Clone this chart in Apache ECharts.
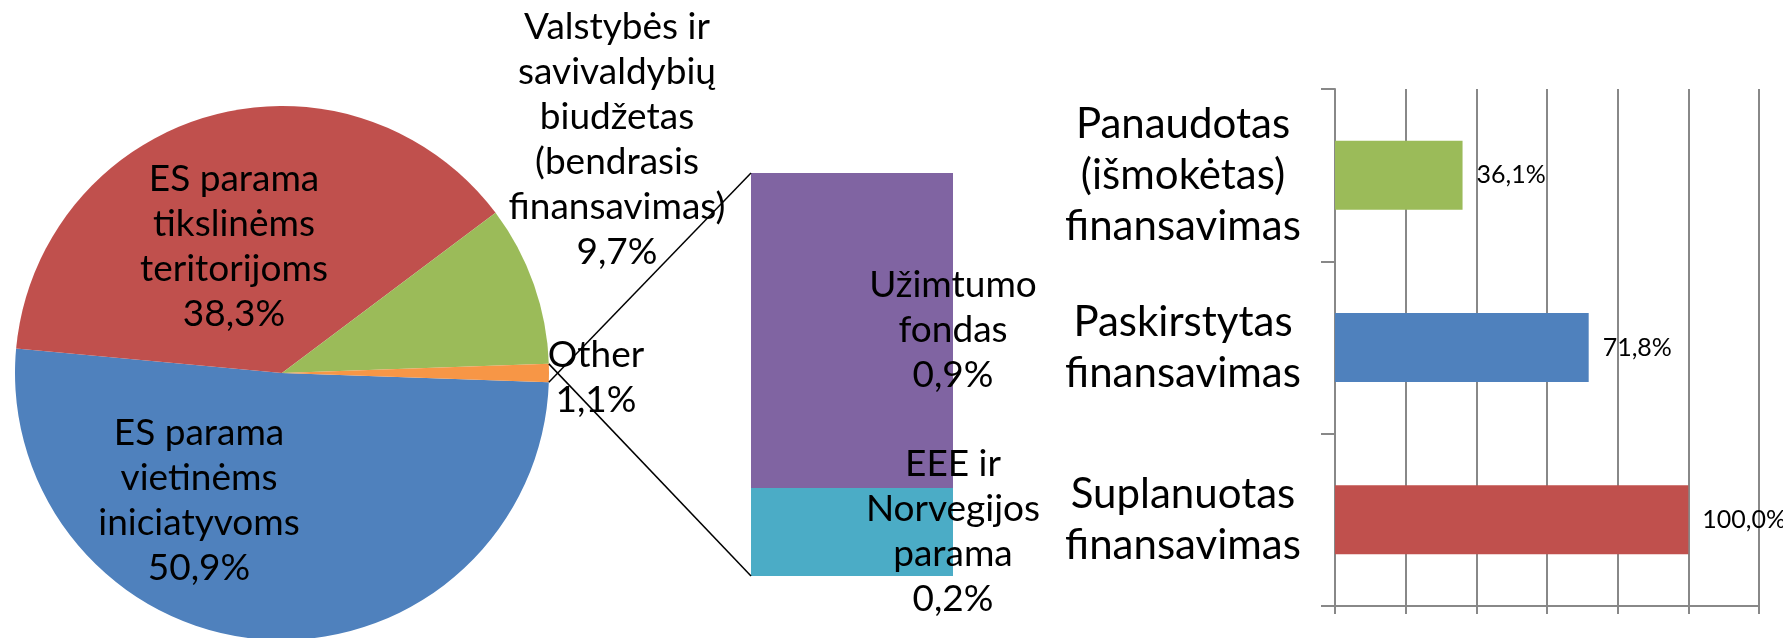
<!DOCTYPE html>
<html>
<head>
<meta charset="utf-8">
<script src="https://cdn.jsdelivr.net/npm/echarts@6/dist/echarts.min.js"></script>
<style>
	html, body { margin: 0; padding: 0; background: #fff; }
	#chart { width: 1783px; height: 638px; }
</style>
</head>
<body>
<div id="chart"></div>
<script>
	// Finansavimo šaltiniai (pie).
	var pieNames = ['ES parama\nvietinėms\niniciatyvoms', 'ES parama\ntikslinėms\nteritorijoms', 'Valstybės ir\nsavivaldybių\nbiudžetas\n(bendrasis\nfinansavimas)', 'Other'];
	var pieValues = [50.9, 38.3, 9.7, 1.1];
	var pieColors = ['#4F81BD', '#C0504D', '#9BBB59', '#F79646'];

	// "Other" išskaidymas (stacked bar).
	var otherNames = ['EEE ir\nNorvegijos\nparama', 'Užimtumo\nfondas'];
	var otherValues = [0.24, 0.86];
	var otherColors = ['#4BACC6', '#8064A2'];

	// Finansavimo būklė (horizontal bars).
	var finCategories = ['Suplanuotas\nfinansavimas', 'Paskirstytas\nfinansavimas', 'Panaudotas\n(išmokėtas)\nfinansavimas'];
	var finValues = [100, 71.8, 36.1];
	var finColors = ['#C0504D', '#4F81BD', '#9BBB59'];

	var pieCenter = [282, 373];
	var pieRadius = 267;
	var pieStart = -2;
	var font = 'Lato, "Open Sans", sans-serif';

	// label centres, relative to the pie centre
	var pieLabelShift = [[-83, 128], [-48, -126], [335, -233], [314, 5]];

	var pct = function(v) {
		return v.toFixed(1).replace('.', ',') + '%';
	};

	var otherTotal = pieValues[3];

	var chartDom = document.getElementById('chart');
	var myChart = echarts.init(chartDom, null, { renderer: 'canvas' });

	var option = {
		animation: false,
		textStyle: { fontFamily: font, color: '#000' },
		grid: [
			{ left: 751, top: 173, width: 202, height: 403 },
			{ left: 1335, top: 89, width: 424, height: 517 }
		],
		xAxis: [
			{
				gridIndex: 0, type: 'category', data: [''], show: false
			},
			{
				gridIndex: 1, type: 'value', min: 0, max: 120, interval: 20,
				axisLine: { show: true, lineStyle: { color: '#888', width: 2 } },
				axisTick: { show: true, length: 8, lineStyle: { color: '#888', width: 2 } },
				axisLabel: { show: false },
				splitLine: { show: true, lineStyle: { color: '#888', width: 2 } }
			}
		],
		yAxis: [
			{
				gridIndex: 0, type: 'value', min: 0, max: otherTotal, show: false
			},
			{
				gridIndex: 1, type: 'category', data: finCategories,
				axisLine: { show: true, lineStyle: { color: '#888', width: 2 } },
				axisTick: { show: true, length: 14, lineStyle: { color: '#888', width: 2 } },
				axisLabel: {
					show: true, align: 'center', margin: 152,
					fontSize: 42, lineHeight: 51, color: '#000', fontFamily: font
				},
				splitLine: { show: false }
			}
		],
		series: [
			{
				type: 'pie',
				silent: true,
				center: pieCenter,
				radius: pieRadius,
				startAngle: pieStart,
				clockwise: true,
				avoidLabelOverlap: false,
				label: {
					show: true,
					position: 'inside',
					fontSize: 37,
					lineHeight: 45,
					color: '#000',
					fontFamily: font,
					formatter: function(p) {
						return p.name + '\n' + pct(p.value);
					}
				},
				labelLine: { show: false },
				labelLayout: function(p) {
					var s = pieLabelShift[p.dataIndex];
					return {
						x: pieCenter[0] + s[0],
						y: pieCenter[1] + s[1],
						align: 'center',
						verticalAlign: 'middle'
					};
				},
				data: pieNames.map(function(n, i) {
					return { name: n, value: pieValues[i], itemStyle: { color: pieColors[i] } };
				})
			}
		]
	};

	otherNames.forEach(function(n, i) {
		option.series.push({
			type: 'bar',
			name: n,
			silent: true,
			xAxisIndex: 0,
			yAxisIndex: 0,
			stack: 'other',
			barWidth: '100%',
			itemStyle: { color: otherColors[i] },
			label: {
				show: true,
				position: 'right',
				distance: 0,
				align: 'center',
				verticalAlign: 'middle',
				fontSize: 37,
				lineHeight: 45,
				color: '#000',
				fontFamily: font,
				formatter: function(p) {
					return p.seriesName + '\n' + pct(p.value);
				}
			},
			data: [otherValues[i]]
		});
	});

	option.series.push({
		type: 'bar',
		silent: true,
		xAxisIndex: 1,
		yAxisIndex: 1,
		barCategoryGap: '60%',
		label: {
			show: true,
			position: 'right',
			distance: 14,
			fontSize: 25,
			color: '#000',
			fontFamily: font,
			formatter: function(p) { return pct(p.value); }
		},
		data: finValues.map(function(v, i) {
			return { value: v, itemStyle: { color: finColors[i] } };
		})
	});

	myChart.setOption(option);

	// Jungiamosios linijos nuo "Other" sektoriaus iki stulpelio.
	var total = pieValues.reduce(function(a, b) { return a + b; }, 0);
	var before = pieValues.slice(0, 3).reduce(function(a, b) { return a + b; }, 0);
	var a1 = (pieStart - before / total * 360) * Math.PI / 180;
	var a2 = (pieStart - (before + otherTotal) / total * 360) * Math.PI / 180;
	var p1 = [pieCenter[0] + pieRadius * Math.cos(a1), pieCenter[1] - pieRadius * Math.sin(a1)];
	var p2 = [pieCenter[0] + pieRadius * Math.cos(a2), pieCenter[1] - pieRadius * Math.sin(a2)];

	var rect = myChart.getModel().getComponent('grid', 0).coordinateSystem.getRect();
	var topY = myChart.convertToPixel({ yAxisIndex: 0 }, otherTotal);
	var botY = myChart.convertToPixel({ yAxisIndex: 0 }, 0);

	myChart.setOption({
		graphic: [
			{
				type: 'polyline', silent: true, z: 100,
				shape: { points: [p2, [rect.x, topY]] },
				style: { stroke: '#000', lineWidth: 1.5, fill: null }
			},
			{
				type: 'polyline', silent: true, z: 100,
				shape: { points: [p1, [rect.x, botY]] },
				style: { stroke: '#000', lineWidth: 1.5, fill: null }
			}
		]
	});
</script>
</body>
</html>
